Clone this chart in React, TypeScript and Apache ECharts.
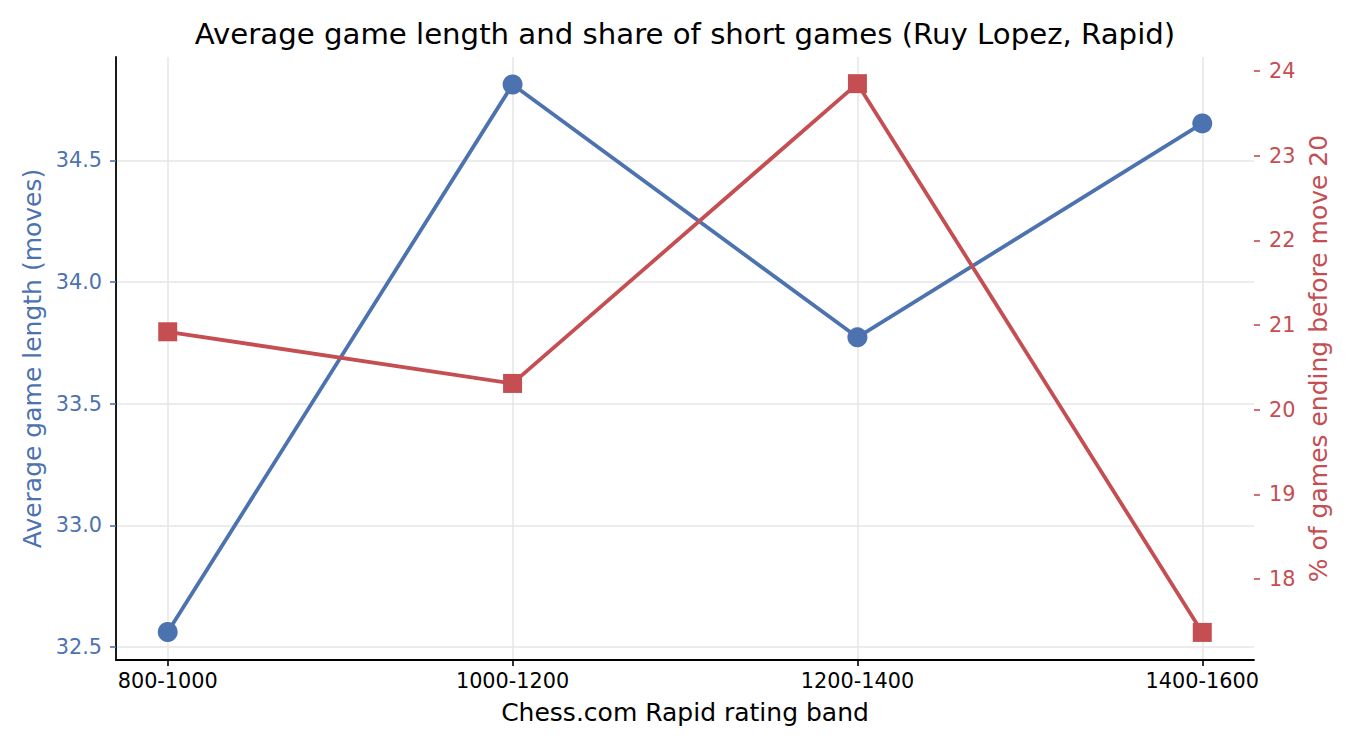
import * as React from "react";
import * as echarts from "echarts";

const bands = ["800-1000", "1000-1200", "1200-1400", "1400-1600"];
const avgLength = [32.562, 34.812, 33.773, 34.652];
const shortShare = [20.92, 20.31, 23.85, 17.37];
const leftTicks = [32.5, 33.0, 33.5, 34.0, 34.5];
const rightTicks = [18, 19, 20, 21, 22, 23, 24];

const BLUE = "#4C72B0";
const RED = "#C44E52";
const FONT = "DejaVu Sans";

export default function App() {
  const chartRef = React.useRef<HTMLDivElement | null>(null);

  React.useEffect(() => {
    if (!chartRef.current) return;
    const chart = echarts.init(chartRef.current, undefined, { renderer: "svg" });
    const xIdx = bands.map((_, i) => i);

    chart.setOption({
      animation: false,
      backgroundColor: "#ffffff",
      title: {
        text: "Average game length and share of short games (Ruy Lopez, Rapid)",
        left: 680,
        top: 14,
        textAlign: "center",
        textStyle: { fontFamily: FONT, fontSize: 29.2, fontWeight: "normal", color: "#000" },
      },
      grid: { left: 116, right: 96, top: 57, bottom: 90 },
      xAxis: {
        type: "value",
        min: -0.15,
        max: 3.15,
        name: "Chess.com Rapid rating band",
        nameLocation: "middle",
        nameGap: 40,
        nameTextStyle: { fontFamily: FONT, fontSize: 25, color: "#000" },
        axisLine: { show: true, onZero: false, lineStyle: { color: "#000", width: 1.8 } },
        axisTick: { show: true, length: 6, customValues: xIdx, lineStyle: { color: "#000", width: 1.6 } },
        axisLabel: {
          customValues: xIdx,
          margin: 10,
          fontFamily: FONT,
          fontSize: 20.8,
          color: "#000",
          formatter: (v: number) => bands[Math.round(v)] ?? "",
        },
        splitLine: { show: true, lineStyle: { color: "#e6e6e6", width: 1.5 } },
      },
      yAxis: [
        {
          type: "value",
          position: "left",
          min: 32.447,
          max: 34.925,
          name: "Average game length (moves)",
          nameLocation: "middle",
          nameGap: 66,
          nameTextStyle: { fontFamily: FONT, fontSize: 25, color: BLUE },
          axisLine: { show: true, onZero: false, lineStyle: { color: "#000", width: 1.8 } },
          axisTick: { show: true, length: 6, customValues: leftTicks, lineStyle: { color: BLUE, width: 1.6 } },
          axisLabel: {
            customValues: leftTicks,
            margin: 14,
            fontFamily: FONT,
            fontSize: 20.8,
            color: BLUE,
            formatter: (v: number) => v.toFixed(1),
          },
          splitLine: { show: true, lineStyle: { color: "#e6e6e6", width: 1.5 } },
        },
        {
          type: "value",
          position: "right",
          min: 17.044,
          max: 24.165,
          name: "% of games ending before move 20",
          nameLocation: "middle",
          nameGap: 40,
          nameTextStyle: { fontFamily: FONT, fontSize: 25, color: RED },
          axisLine: { show: false, onZero: false },
          axisTick: { show: true, length: 6, customValues: rightTicks, lineStyle: { color: RED, width: 1.6 } },
          axisLabel: {
            customValues: rightTicks,
            margin: 15,
            fontFamily: FONT,
            fontSize: 20.8,
            color: RED,
            formatter: (v: number) => String(v),
          },
          splitLine: { show: false },
        },
      ],
      series: [
        {
          name: "Average game length",
          type: "line",
          yAxisIndex: 0,
          symbol: "circle",
          symbolSize: 20,
          z: 3,
          lineStyle: { color: BLUE, width: 3.8 },
          itemStyle: { color: BLUE },
          data: avgLength.map((v, i) => [i, v]),
        },
        {
          name: "Share of short games",
          type: "line",
          yAxisIndex: 1,
          symbol: "rect",
          symbolSize: 19,
          z: 4,
          lineStyle: { color: RED, width: 3.8 },
          itemStyle: { color: RED },
          data: shortShare.map((v, i) => [i, v]),
        },
      ],
    });

    return () => {
      chart.dispose();
    };
  }, []);

  return (
    <div
      ref={chartRef}
      style={{ position: "fixed", left: 0, top: 0, width: 1350, height: 750 }}
    />
  );
}
